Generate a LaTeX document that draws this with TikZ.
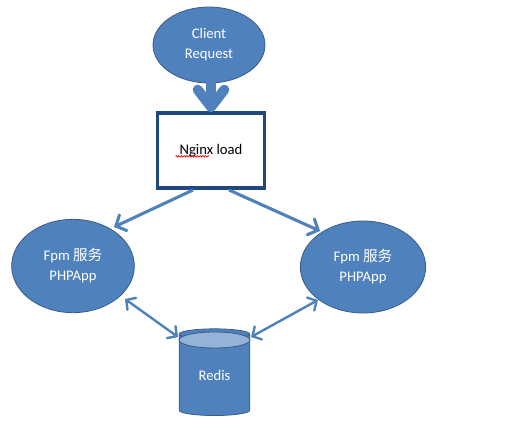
\documentclass[tikz,border=0pt]{standalone}
\usepackage{fontspec}
\setmainfont{Carlito}
\newfontfamily\cjk{Noto Sans CJK SC}
\usetikzlibrary{shapes.geometric,arrows.meta,decorations.pathmorphing}
\definecolor{fillblue}{HTML}{4F81BD}
\definecolor{edgeblue}{HTML}{385D8A}
\definecolor{topblue}{HTML}{95B3D7}
\definecolor{boxedge}{HTML}{1F497D}
\tikzset{
  blob/.style={ellipse,draw=edgeblue,fill=fillblue,line width=0.6pt,text=white,align=center,inner sep=0pt},
  flow/.style={draw=fillblue,line width=2.3pt,-{Straight Barb[length=6pt,width=13pt,line cap=round]}},
  both/.style={draw=fillblue,line width=1.8pt,{Straight Barb[length=5pt,width=11pt,line cap=round]}-{Straight Barb[length=5pt,width=11pt,line cap=round]}},
}
\begin{document}
\begin{tikzpicture}[x=0.75pt,y=-0.75pt,font=\fontsize{11pt}{15pt}\selectfont]
\useasboundingbox (0,0) rectangle (528,428);
\node[blob,minimum width=84pt,minimum height=57pt] (client) at (209,45) {Client\\Request};
\node[draw=boxedge,line width=2.6pt,fill=white,minimum width=80pt,minimum height=56pt,inner sep=0pt] (nginx) at (211,150.5) {};
\node (lbl) at (211,150.5) {Nginx load};
\draw[red,line width=0.5pt,decorate,decoration={zigzag,segment length=2pt,amplitude=0.6pt}]
  ([xshift=0.5pt,yshift=-1.5pt]lbl.base west) -- ++(25pt,0);
\node[blob,minimum width=92pt,minimum height=70pt] (fpmL) at (73,266) {Fpm {\cjk 服务}\\PHPApp};
\node[blob,minimum width=94pt,minimum height=69pt] (fpmR) at (363,267) {Fpm {\cjk 服务}\\PHPApp};
\node[cylinder,shape border rotate=90,aspect=0.33,draw=edgeblue,fill=fillblue,line width=0.6pt,
  minimum width=53pt,minimum height=65pt,text=white,inner sep=0pt] (redis) at (214.5,375) {Redis};
\fill[topblue,draw=edgeblue,line width=0.6pt] (214.5,340) ellipse [x radius=35.5,y radius=8];
\coordinate (c1) at (211,80);
\coordinate (c2) at (211,112);
\draw[draw=fillblue,line width=7.5pt,line cap=round,-{Straight Barb[length=13pt,width=20pt,line cap=round,line join=round]}] (c1) -- (c2);
\coordinate (n1) at (193,190);
\coordinate (n2) at (229,190);
\coordinate (l1) at (114,227);
\coordinate (r1) at (320,231);
\draw[flow] (n1) -- (l1);
\draw[flow] (n2) -- (r1);
\coordinate (la) at (125,299);
\coordinate (rb) at (178,337);
\coordinate (ra) at (318,300);
\coordinate (rc) at (251,337);
\draw[both] (la) -- (rb);
\draw[both] (ra) -- (rc);
\end{tikzpicture}
\end{document}
